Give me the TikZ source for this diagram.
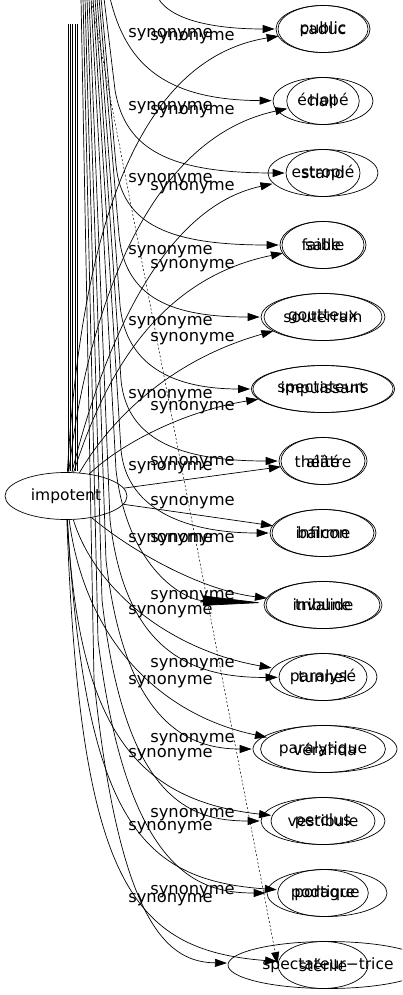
\documentclass[tikz,border=0pt]{standalone}
\usepackage{fontspec}
\setmainfont{DejaVu Sans}
\usetikzlibrary{shapes.geometric,arrows.meta}

\begin{document}
\begin{tikzpicture}[x=1pt,y=-1pt,shorten >=1pt,node distance=72pt,line width=0.7pt,
                    >={Triangle[length=12pt,width=8pt]},
                    main node/.style={ellipse,draw,inner sep=0pt,minimum height=47pt,font=\fontsize{15.5}{18}\selectfont},
                    label node/.style={anchor=west,inner sep=0pt,font=\fontsize{16.3}{19}\selectfont}]

       \useasboundingbox (0,0) rectangle (402,995);
       \clip (0,0) rectangle (402,995);

       \node[main node,minimum width=122pt] (imp) at (66,496) {impotent};

       \node[main node,minimum width=90pt] (i1) at (323,29) {caduc};
       \node[main node,minimum width=72pt] (i2) [below of=i1] {éclopé};
       \node[main node,minimum width=110pt] (i3) [below of=i2] {estropié};
       \node[main node,minimum width=82pt] (i4) [below of=i3] {faible};
       \node[main node,minimum width=118pt] (i5) [below of=i4] {goutteux};
       \node[main node,minimum width=140pt] (i6) [below of=i5] {impuissant};
       \node[main node,minimum width=84pt] (i7) [below of=i6] {alité};
       \node[main node,minimum width=102pt] (i8) [below of=i7] {infirme};
       \node[main node,minimum width=114pt] (i9) [below of=i8] {invalide};
       \node[main node,minimum width=108pt] (i10) [below of=i9] {paralysé};
       \node[main node,minimum width=120pt] (i11) [below of=i10] {paralytique};
       \node[main node,minimum width=104pt] (i12) [below of=i11] {perclus};
       \node[main node,minimum width=86pt] (i13) [below of=i12] {podagre};
       \node[main node,minimum width=90pt] (i14) [below of=i13] {stérile};

       \node[main node,minimum width=94pt] (g1) at (i1) {public};
       \node[main node,minimum width=100pt] (g2) at (i2) {hall};
       \node[main node,minimum width=74pt] (g3) at (i3) {stand};
       \node[main node,minimum width=86pt] (g4) at (i4) {salle};
       \node[main node,minimum width=124pt] (g5) at (i5) {souterrain};
       \node[main node,minimum width=143pt] (g6) at (i6) {spectateurs};
       \node[main node,minimum width=88pt] (g7) at (i7) {théâtre};
       \node[main node,minimum width=106pt] (g8) at (i8) {balcon};
       \node[main node,minimum width=118pt] (g9) at (i9) {tribune};
       \node[main node,minimum width=88pt] (g10) at (i10) {tunnel};
       \node[main node,minimum width=144pt,xshift=2pt] (g11) at (i11) {véranda};
       \node[main node,minimum width=124pt] (g12) at (i12) {vestibule};
       \node[main node,minimum width=120pt,xshift=4pt] (g13) at (i13) {portique};
       \node[main node,minimum width=200pt,xshift=5pt] (g14) at (i14) {spectateur−trice};

       \foreach \x [count=\i] in {68,70.3,72.6,74.9,77.2}
         \coordinate (s\i) at (\x,24);
       \foreach \x [count=\i] in {158,110,104,101,99,97,95,93,91,89,87,85,83,81,79}
         \coordinate (top\i) at (\x,-2);

       \foreach \i in {1,...,5}
         \draw (s\i) -- (s\i |- imp.north);

       \draw[->] (imp) .. controls (80,250) and (130,60) .. (i1);
       \draw[->] (imp) .. controls (85,330) and (140,140) .. (i2);
       \draw[->] (imp) .. controls (95,380) and (150,210) .. (i3);
       \draw[->] (imp) .. controls (100,390) and (150,280) .. (i4);
       \draw[->] (imp) .. controls (110,420) and (170,360) .. (i5);
       \draw[->] (imp) .. controls (125,440) and (190,410) .. (i6);
       \draw[->] (imp) -- (i7);
       \draw[->] (imp) -- (i8);
       \draw[->] (imp) .. controls (130,550) and (200,590) .. (i9);
       \draw[->] (imp) .. controls (95,590) and (170,650) .. (i10);
       \draw[->] (imp) .. controls (85,640) and (160,715) .. (i11);
       \draw[->] (imp) .. controls (78,720) and (130,800) .. (i12);
       \draw[->] (imp) .. controls (85,820) and (140,880) .. (i13);
       \draw[->] (imp) .. controls (80,880) and (130,950) .. (i14);

       \draw[->] (top1) .. controls (172,22) and (220,29) .. (g1);
       \draw[->] (top2) .. controls (125,60) and (160,100) .. (g2);
       \draw[->] (top3) -- (115,90) .. controls (125,150) and (170,173) .. (g3);
       \draw[->] (top4) -- (116,165) .. controls (122,225) and (170,245) .. (g4);
       \draw[->] (top5) -- (119,235) .. controls (125,300) and (175,317) .. (g5);
       \draw[->] (top6) -- (120,305) .. controls (126,370) and (180,389) .. (g6);
       \draw[->] (top7) -- (121,380) .. controls (127,445) and (190,461) .. (g7);
       \draw[->] (top8) -- (121,450) .. controls (127,512) and (190,533) .. (g8);
       \draw[-{Triangle[length=60pt,width=10pt]}] (top9) -- (116,470) .. controls (128,570) and (185,600) .. (g9);
       \draw[->] (top10) -- (110,520) .. controls (125,650) and (190,678) .. (g10);
       \draw[->] (top11) -- (106,560) .. controls (125,725) and (190,749) .. (g11);
       \draw[->] (top12) -- (102,600) .. controls (125,800) and (190,821) .. (g12);
       \draw[->] (top13) -- (98,640) .. controls (127,875) and (200,893) .. (g13);
       \draw[->] (top14) -- (94,680) .. controls (120,930) and (170,962) .. (g14);
       \draw[->,line width=0.5pt,dash pattern=on 2pt off 2pt] (top9) -- (i14.west);

       \foreach \y [count=\i] in {35,108,180,252,323,396,468,540,612,682,755,828,900}
         \node[label node] (l\i) at (128,\y) {synonyme};
       \foreach \y [count=\i] in {38,112,188,266,339,408,463,503,540,597,665,740,815,892}
         \node[label node] (r\i) at (150,\y) {synonyme};

\end{tikzpicture}
\end{document}
